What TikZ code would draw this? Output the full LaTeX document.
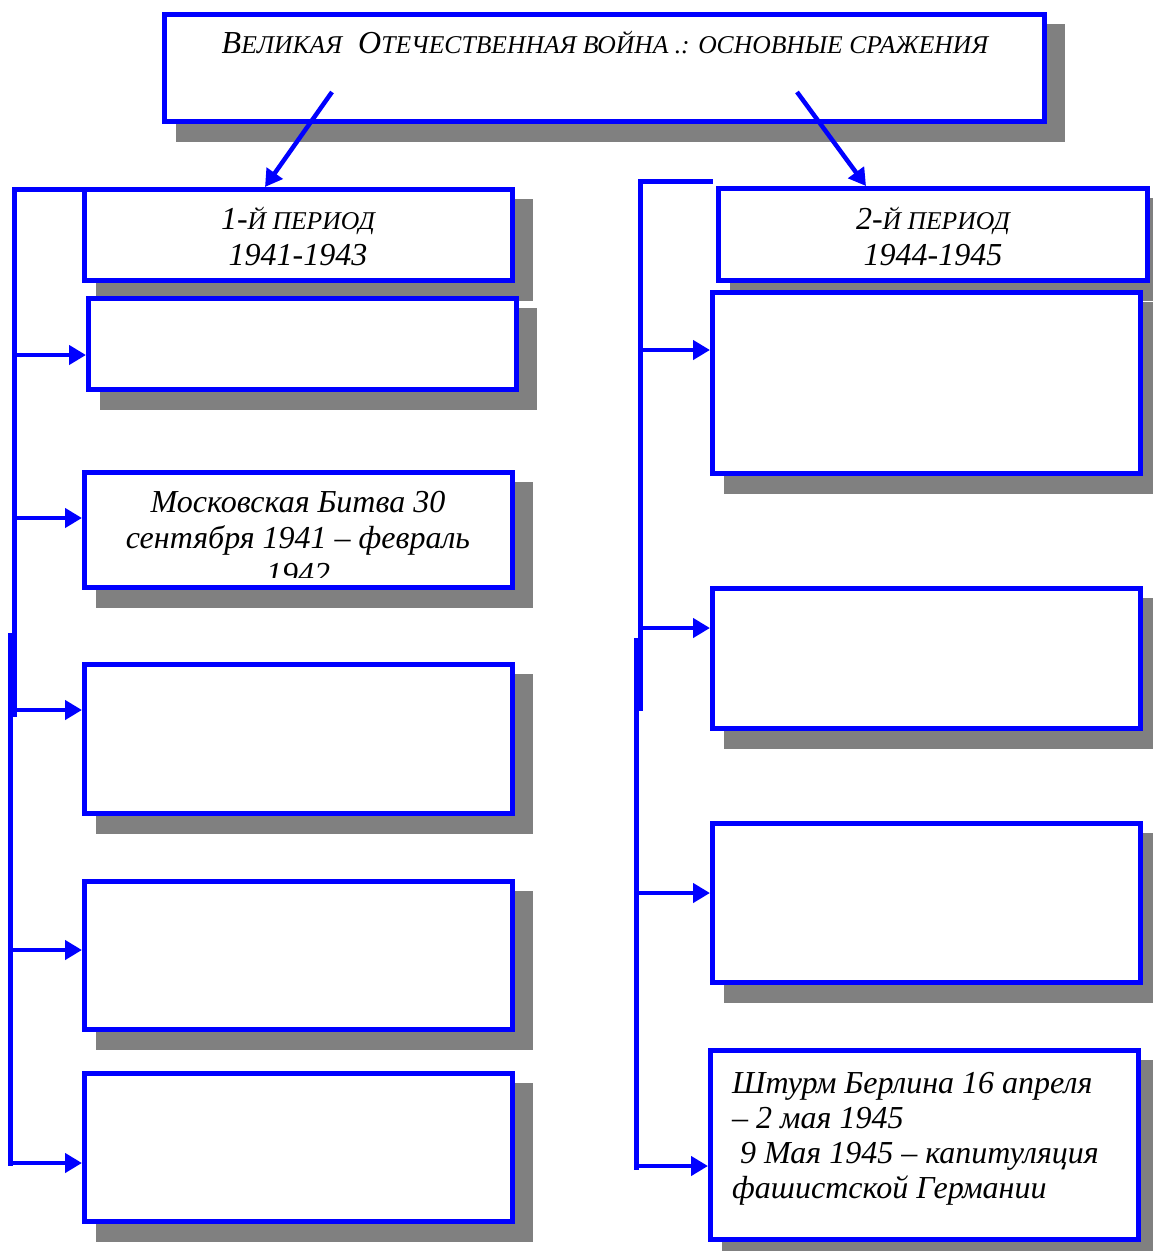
\documentclass[tikz,border=0pt]{standalone}
\usepackage{fontspec}
\setmainfont{Liberation Serif}
\usetikzlibrary{arrows.meta,calc}
\definecolor{shadowgray}{RGB}{128,128,128}
\definecolor{pureblue}{RGB}{0,0,255}
\pgfdeclarelayer{bg}
\pgfsetlayers{bg,main}
\newcommand\smc[2]{{\fontsize{#1}{#1}\selectfont #2}}
\newcommand\boxshadow[1]{\begin{pgfonlayer}{bg}\fill[shadowgray] ([shift={(14,12)}]#1.north west) rectangle ([shift={(18,18)}]#1.south east);\end{pgfonlayer}}
\newcommand\mkbox[5]{\node[boxst, minimum width=#4pt, minimum height=#5pt] (#1) at (#2,#3) {};\boxshadow{#1}}
\begin{document}
\begin{tikzpicture}[x=1pt,y=-1pt,
  boxst/.style={draw=pureblue, line width=5pt, fill=white, inner sep=0pt, anchor=north west},
  conn/.style={draw=pureblue, line width=5pt, line cap=rect},
  arr/.style={draw=pureblue, line width=4.5pt, -{Triangle[length=17pt,width=19pt]}},
  txt/.style={inner sep=0pt, font=\fontsize{32}{36}\selectfont\itshape}]
\useasboundingbox (0,0) rectangle (1152,1251);
% boxes
\mkbox{T}{162}{12}{880}{107}
\mkbox{P1}{82}{187}{428}{91}
\mkbox{L1}{86}{296}{428}{91}
\mkbox{L2}{82}{470}{428}{115}
\mkbox{L3}{82}{662}{428}{149}
\mkbox{L4}{82}{879}{428}{148}
\mkbox{L5}{82}{1071}{428}{148}
\mkbox{P2}{716}{186}{429}{92}
\mkbox{R1}{710}{290}{428}{181}
\mkbox{R2}{710}{586}{428}{140}
\mkbox{R3}{710}{821}{428}{159}
\mkbox{R4}{708}{1048}{428}{189}
% texts
\node[txt, anchor=base] (Tt) at (605,53) {\fontsize{32}{38}\selectfont В\smc{25.6}{ЕЛИКАЯ}\ \ О\smc{25.6}{ТЕЧЕСТВЕННАЯ ВОЙНА .: ОСНОВНЫЕ СРАЖЕНИЯ}};
\node[txt, anchor=base] (P1t) at (298,229) {\begin{tabular}[t]{c}1-\smc{25.6}{Й ПЕРИОД}\\1941-1943\end{tabular}};
\node[txt, anchor=base] (P2t) at (933,229) {\begin{tabular}[t]{c}2-\smc{25.6}{Й ПЕРИОД}\\1944-1945\end{tabular}};
\begin{scope}
\clip (L2.north west) rectangle ([yshift=13pt]L2.south east);
\node[txt, anchor=base] (L2t) at (298,512) {\begin{tabular}[t]{c}Московская Битва 30\\сентября 1941 – февраль\\1942\end{tabular}};
\end{scope}
\node[txt, anchor=base west, font=\fontsize{32}{35}\selectfont\itshape] (R4t) at (732,1093) {\begin{tabular}[t]{@{}l@{}}Штурм Берлина 16 апреля\\– 2 мая 1945\\\ 9 Мая 1945 – капитуляция\\фашистской Германии\end{tabular}};
% title arrows
\coordinate (ta1) at (332,92);
\coordinate (ta2) at (797,92);
\draw[arr] (ta1) -- ([xshift=183pt]P1.north west);
\draw[arr] (ta2) -- ([xshift=150pt]P2.north west);
% left trunk
\coordinate (LT0) at (14,189.5);
\coordinate (LT1) at (14,714);
\coordinate (LB0) at (10,635);
\coordinate (LB1) at (10,1163);
\draw[conn] (LT0 -| P1.west) -- (LT0) -- (LT1);
\draw[conn] (LB0) -- (LB1);
\coordinate (la1) at (14,355);
\coordinate (la2) at (14,518);
\coordinate (la3) at (14,710);
\coordinate (la4) at (10,950);
\coordinate (la5) at (10,1163);
\draw[arr] (la1) -- (la1 -| L1.west);
\draw[arr] (la2) -- (la2 -| L2.west);
\draw[arr] (la3) -- (la3 -| L3.west);
\draw[arr] (la4) -- (la4 -| L4.west);
\draw[arr] (la5) -- (la5 -| L5.west);
% right trunk
\coordinate (RH) at (710,181);
\coordinate (RT0) at (640,181);
\coordinate (RT1) at (640,708);
\coordinate (RB0) at (636,640);
\coordinate (RB1) at (636,1167);
\draw[conn] (RH) -- (RT0) -- (RT1);
\draw[conn] (RB0) -- (RB1);
\coordinate (ra1) at (640,350);
\coordinate (ra2) at (640,628);
\coordinate (ra3) at (636,893);
\coordinate (ra4) at (636,1166);
\draw[arr] (ra1) -- (ra1 -| R1.west);
\draw[arr] (ra2) -- (ra2 -| R2.west);
\draw[arr] (ra3) -- (ra3 -| R3.west);
\draw[arr] (ra4) -- (ra4 -| R4.west);
\end{tikzpicture}
\end{document}
